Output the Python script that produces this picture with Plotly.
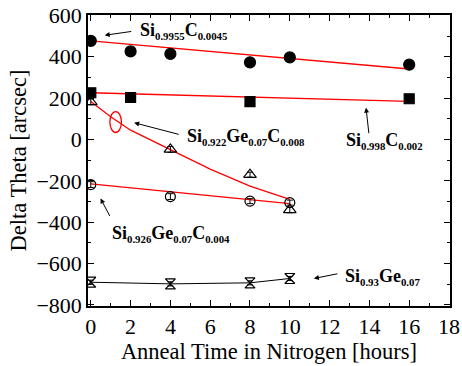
import plotly.graph_objects as go

# ---- data ----
x_sic45 = [0, 2, 4, 8, 10, 16]
y_sic45 = [477, 426, 414, 373, 397, 362]
e_sic45 = [18, 18, 18, 18, 18, 16]
fitx_sic45 = [0, 16]
fity_sic45 = [477, 341]

x_sic2 = [0, 2, 8, 16]
y_sic2 = [226, 203, 183, 197]
e_sic2 = [18, 18, 16, 16]
fitx_sic2 = [0, 16]
fity_sic2 = [226, 184]

x_sgc8 = [0, 4, 8, 10]
y_sgc8 = [182, -48, -170, -340]
e_sgc8 = [14, 14, 12, 14]
fitx_sgc8 = [0, 1, 2, 4, 6, 8, 10]
fity_sgc8 = [184, 110, 45, -50, -143, -225, -290]

x_sgc4 = [0, 4, 8, 10]
y_sgc4 = [-218, -276, -298, -305]
e_sgc4 = [14, 14, 12, 12]
fitx_sgc4 = [0, 10]
fity_sgc4 = [-215, -310]

x_sg = [0, 4, 8, 10]
y_sg = [-690, -698, -693, -672]
e_sg = [10, 10, 10, 10]

x_ticks = [0, 2, 4, 6, 8, 10, 12, 14, 16, 18]
y_ticks = [-800, -600, -400, -200, 0, 200, 400, 600]

FONT = "Liberation Serif"
RED = "#ff0000"

fig = go.Figure()

def fit(xs, ys):
    fig.add_trace(go.Scatter(x=xs, y=ys, mode="lines",
                             line=dict(color=RED, width=1.3),
                             showlegend=False, hoverinfo="skip"))

def pts(xs, ys, es, symbol, size, mode="markers"):
    fig.add_trace(go.Scatter(
        x=xs, y=ys, mode=mode,
        marker=dict(symbol=symbol, size=size, color="black",
                    line=dict(color="black", width=1.2)),
        line=dict(color="black", width=1),
        error_y=dict(type="data", array=es, visible=True,
                     color="black", thickness=1, width=3),
        showlegend=False))

fit(fitx_sic45, fity_sic45)
fit(fitx_sic2, fity_sic2)
fit(fitx_sgc8, fity_sgc8)
fit(fitx_sgc4, fity_sgc4)

pts(x_sic45, y_sic45, e_sic45, "circle", 11)
pts(x_sic2, y_sic2, e_sic2, "square", 10)
pts(x_sgc8, y_sgc8, e_sgc8, "triangle-up-open", 11)
pts(x_sgc4, y_sgc4, e_sgc4, "circle-open", 10)
pts(x_sg, y_sg, e_sg, "hourglass-open", 10, mode="lines+markers")

fig.add_shape(type="circle", xref="x", yref="y",
              x0=0.96, x1=1.54, y0=34, y1=135,
              line=dict(color=RED, width=1.3))

ann_font = dict(family=FONT, size=18, color="black")


def chem(parts):
    out = ""
    for el, sub in parts:
        out += el + "<sub><span style='font-size:10.8px'>" + sub + "</span></sub>"
    return "<b>" + out + "</b>"


labels = [
    (chem([("Si", "0.9955"), ("C", "0.0045")]), 2.36, 524),
    (chem([("Si", "0.922"), ("Ge", "0.07"), ("C", "0.008")]), 4.73, 10),
    (chem([("Si", "0.998"), ("C", "0.002")]), 12.72, -9),
    (chem([("Si", "0.926"), ("Ge", "0.07"), ("C", "0.004")]), 0.955, -455),
    (chem([("Si", "0.93"), ("Ge", "0.07")]), 12.67, -667),
]
for t, x, y in labels:
    fig.add_annotation(text=t, x=x, y=y, xref="x", yref="y",
                       xanchor="left", yanchor="middle", showarrow=False,
                       font=ann_font)

arrows = [
    (0.70, 504, 28, -4),
    (2.18, 81, 46, 12),
    (13.83, 154, 3, 27),
    (0.49, -285, 10, 19),
    (11.21, -672, 25, -5),
]
for x, y, ax, ay in arrows:
    fig.add_annotation(text="", x=x, y=y, xref="x", yref="y",
                       ax=ax, ay=ay, showarrow=True, arrowhead=2,
                       arrowsize=1, arrowwidth=1, arrowcolor="black",
                       standoff=0, startstandoff=0)

axis_common = dict(showline=True, linecolor="black", linewidth=1.5,
                   mirror="allticks", ticks="inside", ticklen=6,
                   tickwidth=1.2, tickcolor="black", showgrid=False,
                   zeroline=False, automargin=False,
                   tickfont=dict(family=FONT, size=22, color="black"))

fig.update_xaxes(range=[-0.14, 18.05], tickvals=x_ticks,
                 minor=dict(ticks="inside", dtick=1, ticklen=3,
                            tickcolor="black", tickwidth=1),
                 title=dict(text="Anneal Time in Nitrogen [hours]",
                            font=dict(family=FONT, size=22.5, color="black"),
                            standoff=4),
                 **axis_common)
fig.update_yaxes(range=[-805, 602], tickvals=y_ticks,
                 minor=dict(ticks="inside", dtick=100, ticklen=3,
                            tickcolor="black", tickwidth=1),
                 title=dict(text="Delta Theta [arcsec]",
                            font=dict(family=FONT, size=22.5, color="black"),
                            standoff=4),
                 **axis_common)

fig.update_layout(width=462, height=366,
                  font=dict(family=FONT, color="black"),
                  margin=dict(l=88, r=12, t=15, b=60),
                  paper_bgcolor="white", plot_bgcolor="white",
                  showlegend=False)

fig.write_html("out.html", config={"displayModeBar": False},
               post_script="document.body.style.margin='0';document.body.style.padding='0';")
